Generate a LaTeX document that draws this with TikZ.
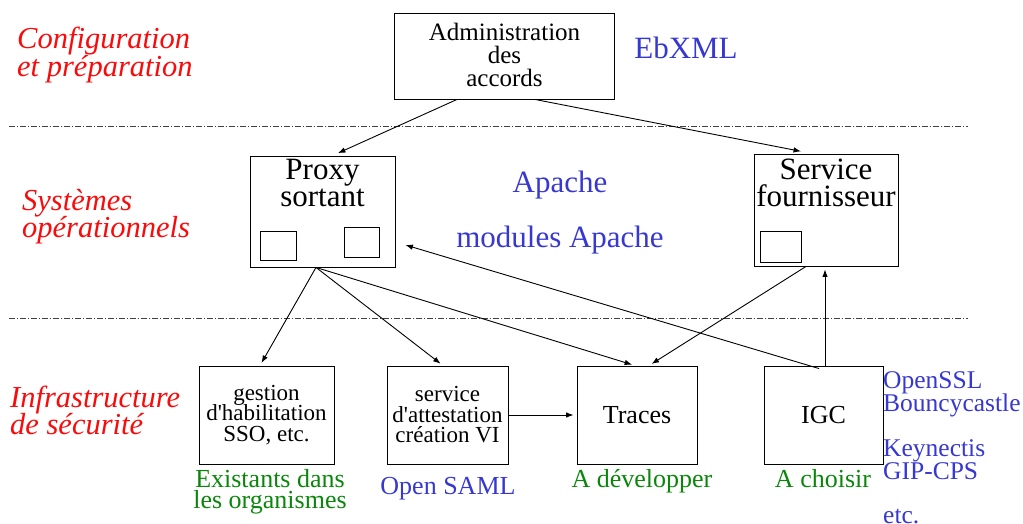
\documentclass[tikz,border=0pt]{standalone}
\usepackage{fontspec}
\setmainfont{Liberation Serif}
\usetikzlibrary{arrows.meta,calc}
\definecolor{lblred}{RGB}{250,10,10}
\definecolor{lblblue}{RGB}{55,55,210}
\definecolor{lblgreen}{RGB}{10,135,10}
% font size and fixed line spacing
\newcommand\fsz[2]{\fontsize{#1pt}{#2pt}\selectfont\lineskiplimit=-100pt}

\begin{document}
\begin{tikzpicture}[x=1pt,y=-1pt,
  box/.style={draw,line width=0.9pt,inner sep=0pt},
  subbox/.style={draw,line width=0.8pt,inner sep=0pt},
  conn/.style={-{Latex[length=7.5pt,width=5.5pt]},line width=0.9pt},
  layer/.style={line width=0.7pt,black!75,dash pattern=on 6pt off 2pt on 1pt off 2pt},
  layertitle/.style={lblred,align=left,inner sep=0pt,anchor=west},
  tool/.style={lblblue,inner sep=0pt},
  status/.style={lblgreen,inner sep=0pt}]
\useasboundingbox (0,0) rectangle (1023,524);

% layer separators
\draw[layer] (9,126) -- (968,126);
\draw[layer] (9,318) -- (968,318);

% layer titles
\node[layertitle,font=\itshape\fsz{30.5}{28}] (cfg) at (17,55) {Configuration\\et préparation};
\node[layertitle,font=\itshape\fsz{30.5}{27}] (ops) at (22,217) {Systèmes\\opérationnels};
\node[layertitle,font=\itshape\fsz{30.5}{27}] (sec) at (10,410) {Infrastructure\\de sécurité};

% configuration layer
\node[box,minimum width=220pt,minimum height=86pt] (admin) at (504.5,56) {};
\node[align=center,inner sep=0pt,font=\fsz{25}{23}] (admintxt) at (504.5,55) {Administration\\des\\accords};
\node[tool,font=\fsz{31}{31},anchor=base] (ebxml) at (686,59) {EbXML};

% operational layer
\node[box,minimum width=145pt,minimum height=111pt] (proxy) at (322.5,211.5) {};
\node[align=center,inner sep=0pt,font=\fsz{31}{27}] (proxytxt) at (322.5,183.5) {Proxy\\sortant};
\node[subbox,minimum width=36pt,minimum height=29pt] (proxymodA) at (278,245.5) {};
\node[subbox,minimum width=35pt,minimum height=30pt] (proxymodB) at (361.5,242) {};

\node[box,minimum width=144pt,minimum height=112pt] (service) at (826,210) {};
\node[align=center,inner sep=0pt,font=\fsz{31}{27}] (servicetxt) at (826,182.5) {Service\\fournisseur};
\node[subbox,minimum width=41pt,minimum height=31pt] (servicemod) at (780.5,246.5) {};

\node[tool,font=\fsz{31}{31},anchor=base] (apache) at (560,193) {Apache};
\node[tool,font=\fsz{31}{31},anchor=base] (modapache) at (560,247) {modules Apache};

% security infrastructure layer
\node[box,minimum width=135pt,minimum height=98pt] (gestion) at (266.5,415) {};
\node[align=center,inner sep=0pt,font=\fsz{23}{20.5}] (gestiontxt) at (266.5,415)
  {gestion\\d\textquotesingle habilitation\\SSO, etc.};
\node[box,minimum width=121pt,minimum height=98pt] (attest) at (447.5,415) {};
\node[align=center,inner sep=0pt,font=\fsz{23}{20.5}] (attesttxt) at (447.5,415)
  {service\\d\textquotesingle attestation\\création VI};
\node[box,minimum width=120pt,minimum height=98pt,font=\fsz{26}{26}] (traces) at (637,415) {Traces};
\node[box,minimum width=119pt,minimum height=98pt,font=\fsz{26}{26}] (igc) at (823.5,415) {IGC};

\node[status,align=center,font=\fsz{26}{21}] (existants) at (270,492) {Existants dans\\les organismes};
\node[tool,font=\fsz{26}{26},anchor=base] (opensaml) at (448,494) {Open SAML};
\node[status,font=\fsz{26}{26},anchor=base] (adev) at (642,487) {A développer};
\node[status,font=\fsz{26}{26},anchor=base] (achoisir) at (823,487) {A choisir};
\node[tool,align=left,font=\fsz{25.5}{23.5},anchor=north west] (pki) at (883,371)
  {OpenSSL\\Bouncycastle\\[21pt]Keynectis\\GIP-CPS\\[20.5pt]etc.};

% connectors
\draw[conn,shorten >=1pt] ([xshift=-47.5pt]admin.south) -- ([xshift=14.5pt,yshift=2pt]proxy.north);
\draw[conn,shorten >=1pt] ([xshift=30.5pt]admin.south) -- ([xshift=-24pt,yshift=2pt]service.north);
\draw[conn,shorten >=3pt] ([xshift=-6.5pt]proxy.south) -- ([xshift=-6.5pt]gestion.north);
\draw[conn,shorten >=3pt] ([xshift=-6.5pt]proxy.south) -- ([xshift=-4.5pt]attest.north);
\draw[conn,shorten >=3pt] ([xshift=-6.5pt]proxy.south) -- ([xshift=-2pt]traces.north);
\draw[conn,shorten >=3pt] ([xshift=-20pt]service.south) -- ([xshift=12pt]traces.north);
\draw[conn,shorten >=3pt] ([xshift=1.5pt]igc.north) -- ([xshift=1.5pt]igc.north |- service.south);
\draw[conn] ([xshift=-4.5pt,yshift=-3pt]igc.north) -- ([xshift=10pt,yshift=-33.5pt]proxy.east);
\draw[conn,shorten >=3pt] (attest.east) -- (traces.west);
\end{tikzpicture}
\end{document}
